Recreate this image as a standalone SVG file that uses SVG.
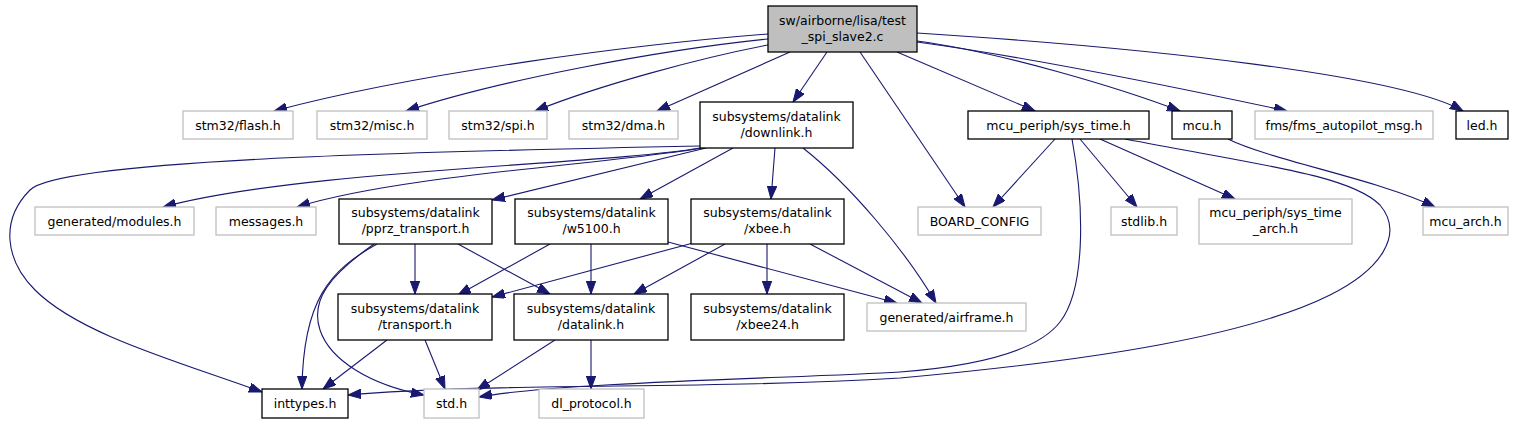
<svg xmlns="http://www.w3.org/2000/svg" width="1540" height="424" viewBox="0 0 1540 424">
<style>
rect{fill:#fff;stroke:#000;stroke-width:1.3}
.g rect{stroke:#bfbfbf;stroke-width:1.3}
.m rect{fill:#bfbfbf}
text{font-family:"DejaVu Sans",sans-serif;font-size:12.5px;text-anchor:middle;fill:#000}
#edges path{fill:none;stroke:#191970;stroke-width:1.1;marker-end:url(#a)}
</style>
<defs>
<marker id="a" markerUnits="userSpaceOnUse" markerWidth="14" markerHeight="10" refX="13" refY="4.7" orient="auto" viewBox="0 0 14 10">
<path d="M0,0 L13,4.7 L0,9.4z" fill="#191970" stroke="#191970" stroke-width="1"/>
</marker>
</defs>
<rect x="0" y="0" width="1540" height="424" style="fill:#fff;stroke:none"/>
<g id="edges">
<path d="M768,34 C640,44 420,72 274,111"/>
<path d="M768,39 C660,50 500,80 406,111"/>
<path d="M768,45 C700,58 600,85 535,111"/>
<path d="M790,52 L657,111"/>
<path d="M827,52 L793,102"/>
<path d="M860,52 L965,207"/>
<path d="M897,52 L1035,111"/>
<path d="M917,41 C1000,52 1120,88 1180,111"/>
<path d="M917,42 C1020,56 1180,88 1287,111"/>
<path d="M917,33 C1150,48 1400,75 1463,111"/>
<path d="M700,146 C400,152 60,160 30,190 C0,220 5,260 35,290 C80,335 180,362 262,392"/>
<path d="M700,148 C600,165 300,170 163,207"/>
<path d="M703,148 C600,165 400,175 297,207"/>
<path d="M706,148 L492,200"/>
<path d="M733,148 L640,199"/>
<path d="M775,148 L771,199"/>
<path d="M803,148 C850,185 905,250 936,303"/>
<path d="M415,244 L415,294"/>
<path d="M458,244 L550,294"/>
<path d="M377,244 C330,270 303,300 302,389"/>
<path d="M374,244 C330,275 310,300 320,330 C330,360 370,385 424,395"/>
<path d="M550,244 L458,295"/>
<path d="M591,244 L591,294"/>
<path d="M668,242 L897,303"/>
<path d="M693,243 L492,297"/>
<path d="M725,244 L634,294"/>
<path d="M767,244 L767,294"/>
<path d="M810,244 L922,303"/>
<path d="M387,340 L323,389"/>
<path d="M425,340 L445,389"/>
<path d="M555,340 L477,390"/>
<path d="M591,340 L591,389"/>
<path d="M1055,139 L993,207"/>
<path d="M1080,139 L1137,207"/>
<path d="M1100,139 L1235,199"/>
<path d="M1072,139 C1085,210 1085,290 1060,322 C1040,348 990,365 900,372 C800,378 560,382 479,397"/>
<path d="M1125,139 C1260,165 1350,175 1380,205 C1405,235 1380,270 1330,295 C1250,335 1100,360 900,378 C700,390 500,382 348,395"/>
<path d="M1228,139 C1270,160 1380,180 1435,207"/>
</g>
<g id="main" class="m"><rect x="768" y="6" width="149" height="46"/><text x="842.5" y="24.5">sw/airborne/lisa/test</text><text x="842.5" y="40.5">_spi_slave2.c</text></g>
<g id="flash" class="g"><rect x="183" y="111" width="110" height="28"/><text x="238" y="129.5">stm32/flash.h</text></g>
<g id="misc" class="g"><rect x="317" y="111" width="110" height="28"/><text x="372" y="129.5">stm32/misc.h</text></g>
<g id="spi" class="g"><rect x="449" y="111" width="98" height="28"/><text x="498" y="129.5">stm32/spi.h</text></g>
<g id="dma" class="g"><rect x="569" y="111" width="109" height="28"/><text x="623.5" y="129.5">stm32/dma.h</text></g>
<g id="downlink"><rect x="700" y="102" width="153" height="46"/><text x="776.5" y="120.5">subsystems/datalink</text><text x="776.5" y="136.5">/downlink.h</text></g>
<g id="sys_time"><rect x="968" y="111" width="181" height="28"/><text x="1058.5" y="129.5">mcu_periph/sys_time.h</text></g>
<g id="mcu"><rect x="1172" y="111" width="60" height="28"/><text x="1202" y="129.5">mcu.h</text></g>
<g id="fms" class="g"><rect x="1255" y="111" width="178" height="28"/><text x="1344" y="129.5">fms/fms_autopilot_msg.h</text></g>
<g id="led"><rect x="1456" y="111" width="52" height="28"/><text x="1482" y="129.5">led.h</text></g>
<g id="modules" class="g"><rect x="35" y="207" width="159" height="28"/><text x="114.5" y="225.5">generated/modules.h</text></g>
<g id="messages" class="g"><rect x="216" y="207" width="100" height="28"/><text x="266" y="225.5">messages.h</text></g>
<g id="pprz"><rect x="339" y="199" width="153" height="45"/><text x="415.5" y="217">subsystems/datalink</text><text x="415.5" y="233">/pprz_transport.h</text></g>
<g id="w5100"><rect x="515" y="199" width="153" height="45"/><text x="591.5" y="217">subsystems/datalink</text><text x="591.5" y="233">/w5100.h</text></g>
<g id="xbee"><rect x="691" y="199" width="153" height="45"/><text x="767.5" y="217">subsystems/datalink</text><text x="767.5" y="233">/xbee.h</text></g>
<g id="board" class="g"><rect x="918" y="207" width="123" height="28"/><text x="979.5" y="225.5">BOARD_CONFIG</text></g>
<g id="stdlib" class="g"><rect x="1111" y="207" width="66" height="28"/><text x="1144" y="225.5">stdlib.h</text></g>
<g id="sys_time_arch" class="g"><rect x="1199" y="199" width="153" height="45"/><text x="1275.5" y="217">mcu_periph/sys_time</text><text x="1275.5" y="233">_arch.h</text></g>
<g id="mcu_arch" class="g"><rect x="1423" y="207" width="85" height="28"/><text x="1465.5" y="225.5">mcu_arch.h</text></g>
<g id="transport"><rect x="338" y="294" width="154" height="46"/><text x="415" y="312.5">subsystems/datalink</text><text x="415" y="328.5">/transport.h</text></g>
<g id="datalink"><rect x="514" y="294" width="154" height="46"/><text x="591" y="312.5">subsystems/datalink</text><text x="591" y="328.5">/datalink.h</text></g>
<g id="xbee24"><rect x="691" y="294" width="153" height="46"/><text x="767.5" y="312.5">subsystems/datalink</text><text x="767.5" y="328.5">/xbee24.h</text></g>
<g id="airframe" class="g"><rect x="867" y="303" width="159" height="28"/><text x="946.5" y="321.5">generated/airframe.h</text></g>
<g id="inttypes"><rect x="262" y="389" width="86" height="29"/><text x="305" y="408">inttypes.h</text></g>
<g id="std" class="g"><rect x="424" y="389" width="55" height="29"/><text x="451.5" y="408">std.h</text></g>
<g id="dl_protocol" class="g"><rect x="539" y="389" width="105" height="29"/><text x="591.5" y="408">dl_protocol.h</text></g>
</svg>
